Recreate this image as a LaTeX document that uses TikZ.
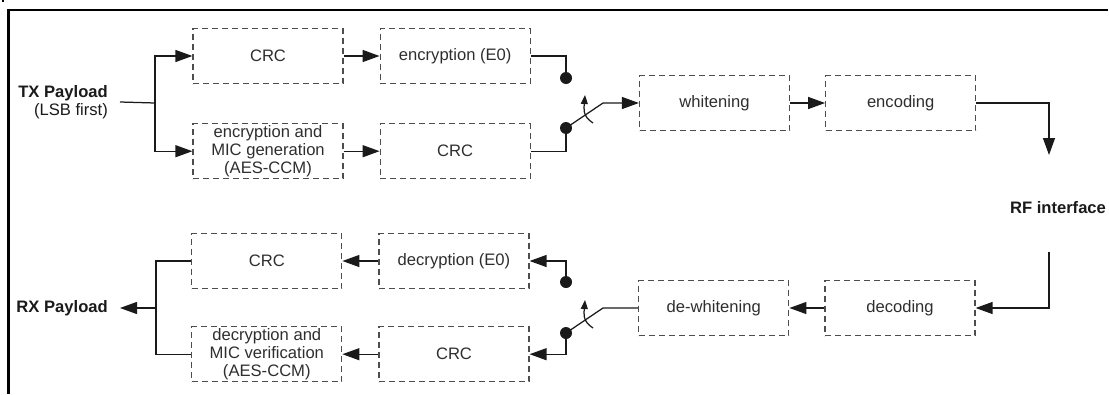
\documentclass[tikz,border=0pt]{standalone}
\usepackage{fontspec}
\setmainfont{Liberation Sans}
\usepackage{tikz}
\usetikzlibrary{arrows.meta,positioning}
\definecolor{BtInk}{HTML}{1A1A1A}
\definecolor{BtDash}{HTML}{4D4D4D}
\definecolor{BtText}{HTML}{2E2E2E}
\tikzset{
  stage/.style={draw=BtDash,dash pattern=on 6pt off 4pt,line width=1.2pt,align=center,
    minimum width=150pt,minimum height=55pt,inner sep=2pt,text=BtText,
    font=\fontsize{16.6}{17.6}\selectfont},
  port/.style={align=right,inner sep=0pt,text=BtInk,font=\fontsize{16.6}{18.5}\selectfont},
  wire/.style={draw=BtInk,line width=1.25pt},
  flow/.style={wire,-{Triangle[length=17pt,width=12pt]}},
  contact/.style={circle,fill=BtInk,minimum size=12pt,inner sep=0pt},
  toggle/.style={wire,-{Triangle[length=9pt,width=7pt]}}
}

\begin{document}
\begin{tikzpicture}[x=1pt,y=-1pt,node distance=36pt]
  \useasboundingbox (0,0) rectangle (1109,394);
  \draw[line width=2.4pt,draw=black] (8.5,394) -- (8.5,10) -- (1108,10);
  \draw[line width=1.5pt] (3,0) -- (3,2);
  % transmit path
  \node[port,anchor=east] (txin) at (108,102) {\textbf{TX Payload}\\(LSB first)};
  \node[stage] (txcrc) at (268,56) {CRC};
  \node[stage,right=of txcrc] (txe0) {encryption (E0)};
  \node[stage,below=39pt of txcrc] (txccm) {encryption and\\MIC generation\\(AES-CCM)};
  \node[stage,right=of txccm] (txcrcb) {CRC};
  \node[contact] (txup) at (566,78) {};
  \node[contact] (txlow) at (566,128) {};
  \coordinate (txknee) at (603,103);
  \node[stage] (white) at (714.5,103) {whitening};
  \node[stage,right=35pt of white] (enc) {encoding};
  \coordinate (txsplit) at (155,103);
  \draw[wire] ([xshift=12pt]txin.east) -- (txsplit);
  \draw[flow] (txsplit) |- (txcrc.west);
  \draw[flow] (txsplit) |- (txccm.west);
  \draw[flow] (txcrc) -- (txe0); \draw[flow] (txccm) -- (txcrcb);
  \draw[wire] (txe0.east) -| (txup);
  \draw[wire] (txcrcb.east) -| (txlow);
  \draw[flow] (txlow.center) -- (txknee) -- (white.west);
  \draw[toggle] (593,123) .. controls (582,116) and (584,108) .. (585,95);
  \draw[flow] (white) -- (enc);
  % RF side
  \coordinate (rfdown) at (1049,155);
  \coordinate (rfup) at (1049,252);
  \node[port] (rf) at (1058,208) {\textbf{RF interface}};
  \draw[flow] (enc.east) -| (rfdown);
  % receive path
  \node[stage] (dec) at (900,308) {decoding};
  \node[stage,left=35pt of dec] (dewhite) {de-whitening};
  \draw[flow] (rfup) |- (dec.east);
  \draw[flow] (dec) -- (dewhite);
  \node[contact] (rxup) at (566,282) {};
  \node[contact] (rxlow) at (566,333) {};
  \coordinate (rxknee) at (603,308);
  \node[stage] (rxe0) at (454,261) {decryption (E0)};
  \node[stage,below=37pt of rxe0] (rxcrcb) {CRC};
  \node[stage,left=of rxe0] (rxcrc) {CRC};
  \node[stage,left=of rxcrcb] (rxccm) {decryption and\\MIC verification\\(AES-CCM)};
  \draw[wire] (dewhite.west) -- (rxknee) -- (rxlow.center);
  \draw[toggle] (593,328) .. controls (582,321) and (584,313) .. (585,300);
  \draw[flow] (rxup.north) |- (rxe0.east);
  \draw[flow] (rxlow.south) |- (rxcrcb.east);
  \draw[flow] (rxe0) -- (rxcrc); \draw[flow] (rxcrcb) -- (rxccm);
  \node[port,anchor=east] (rxout) at (108,308) {\textbf{RX Payload}};
  \coordinate (rxsplit) at (156,308);
  \draw[wire] (rxcrc.west) -| (rxsplit) |- (rxccm.west);
  \draw[flow] (rxsplit) -- ([xshift=12pt]rxout.east);
\end{tikzpicture}
\end{document}
